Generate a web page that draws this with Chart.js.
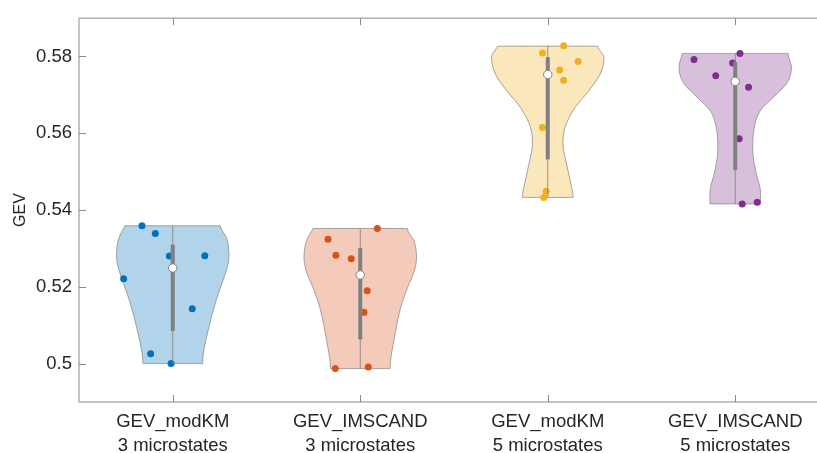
<!DOCTYPE html>
<html>
<head>
<meta charset="utf-8">
<title>GEV violin plot</title>
<script src="https://cdn.jsdelivr.net/npm/chart.js@4.4.1/dist/chart.umd.min.js"></script>
<style>
  html, body { margin: 0; padding: 0; overflow: hidden; background: #fff; }
</style>
</head>
<body>
<canvas id="gevChart" width="840" height="453"></canvas>
<script>
// categories (x positions 1..4)
var categories = [
    ['GEV_modKM', '3 microstates'],
    ['GEV_IMSCAND', '3 microstates'],
    ['GEV_modKM', '5 microstates'],
    ['GEV_IMSCAND', '5 microstates']
];
var yTicks = [0.50, 0.52, 0.54, 0.56, 0.58];

// individual GEV values per group and their horizontal jitter
var modKM3 = [0.5359, 0.5339, 0.5280, 0.5281, 0.5221, 0.5143, 0.5026, 0.5000];
var modKM3Jitter = [-0.164, -0.093, -0.018, 0.171, -0.262, 0.104, -0.118, -0.009];
var imscand3 = [0.5352, 0.5324, 0.5282, 0.5273, 0.5190, 0.5134, 0.4987, 0.4991];
var imscand3Jitter = [0.091, -0.172, -0.130, -0.048, 0.037, 0.020, -0.133, 0.043];
var modKM5 = [0.5828, 0.5809, 0.5787, 0.5765, 0.5738, 0.5615, 0.5449, 0.5433];
var modKM5Jitter = [0.085, -0.028, 0.162, 0.064, 0.085, -0.028, -0.009, -0.021];
var imscand5 = [0.5808, 0.5792, 0.5783, 0.5750, 0.5720, 0.5586, 0.5416, 0.5420];
var imscand5Jitter = [0.025, -0.220, -0.014, -0.104, 0.071, 0.021, 0.037, 0.117];

// box summaries
var medians = [0.5249, 0.5231, 0.5753, 0.5735];
var q1s = [0.5085, 0.5063, 0.5532, 0.5504];
var q3s = [0.5310, 0.5301, 0.5798, 0.5786];

// kernel density outlines (value levels, relative width)
var modKM3Levels = [0.5359, 0.5326, 0.5280, 0.5246, 0.5207, 0.5164, 0.5087, 0.5000];
var modKM3Density = [0.85, 0.96, 1.00, 0.96, 0.87, 0.77, 0.63, 0.53];
var imscand3Levels = [0.5352, 0.5318, 0.5275, 0.5241, 0.5198, 0.5147, 0.5062, 0.4987];
var imscand3Density = [0.84, 0.96, 1.00, 0.96, 0.84, 0.72, 0.60, 0.53];
var modKM5Levels = [0.5827, 0.5797, 0.5754, 0.5711, 0.5668, 0.5617, 0.5574, 0.5523, 0.5476, 0.5433];
var modKM5Density = [0.89, 1.00, 0.93, 0.73, 0.49, 0.31, 0.27, 0.33, 0.40, 0.45];
var imscand5Levels = [0.5808, 0.5771, 0.5731, 0.5694, 0.5660, 0.5608, 0.5557, 0.5497, 0.5446, 0.5416];
var imscand5Density = [0.94, 1.00, 0.92, 0.68, 0.45, 0.33, 0.31, 0.37, 0.45, 0.45];

var groupValues = [modKM3, imscand3, modKM5, imscand5];
var groupJitter = [modKM3Jitter, imscand3Jitter, modKM5Jitter, imscand5Jitter];
var groupLevels = [modKM3Levels, imscand3Levels, modKM5Levels, imscand5Levels];
var groupDensity = [modKM3Density, imscand3Density, modKM5Density, imscand5Density];

var colors = ['0,114,189', '217,83,25', '237,177,32', '126,47,142'];
var violinHalfWidth = 0.3;
var axisColor = '#8a8a8a';
var textColor = '#262626';
var fontFamily = "'Liberation Sans', Arial, Helvetica, sans-serif";

function outline(center, levels, dens) {
    var pts = [];
    for (var i = 0; i < levels.length; i++) {
        pts.push({x: center - violinHalfWidth * dens[i], y: levels[i]});
    }
    for (var j = levels.length - 1; j >= 0; j--) {
        pts.push({x: center + violinHalfWidth * dens[j], y: levels[j]});
    }
    pts.push({x: pts[0].x, y: pts[0].y});
    return pts;
}

var datasets = [];
groupValues.forEach(function(vals, g) {
    var c = g + 1;
    var top = Math.max.apply(null, vals);
    var bottom = Math.min.apply(null, vals);

    datasets.push({
        data: outline(c, groupLevels[g], groupDensity[g]),
        showLine: true,
        fill: 'shape',
        backgroundColor: 'rgba(' + colors[g] + ',0.3)',
        borderColor: 'rgba(130,130,130,0.7)',
        borderWidth: 1,
        pointRadius: 0,
        cubicInterpolationMode: 'monotone',
        order: 5
    });
    datasets.push({
        data: vals.map(function(v, i) { return {x: c + groupJitter[g][i], y: v}; }),
        backgroundColor: 'rgb(' + colors[g] + ')',
        borderWidth: 0,
        pointRadius: 3.5,
        order: 4
    });
    datasets.push({
        data: [{x: c, y: bottom}, {x: c, y: top}],
        showLine: true,
        borderColor: 'rgba(130,130,130,0.85)',
        borderWidth: 1,
        pointRadius: 0,
        order: 3
    });
    datasets.push({
        data: [{x: c, y: q1s[g]}, {x: c, y: q3s[g]}],
        showLine: true,
        borderColor: '#808080',
        borderWidth: 4,
        borderCapStyle: 'butt',
        pointRadius: 0,
        order: 2
    });
    datasets.push({
        data: [{x: c, y: medians[g]}],
        backgroundColor: '#ffffff',
        borderColor: '#808080',
        borderWidth: 1,
        pointRadius: 4.2,
        order: 1
    });
});

// MATLAB-like box with inward ticks
var boxAxes = {
    id: 'boxAxes',
    beforeDatasetsDraw: function(chart) {
        var ctx = chart.ctx;
        var a = chart.chartArea;
        var xs = chart.scales.x;
        var ys = chart.scales.y;
        var tick = 7;
        ctx.save();
        ctx.strokeStyle = axisColor;
        ctx.lineWidth = 1;
        ctx.beginPath();
        ctx.rect(a.left, a.top, a.right - a.left, a.bottom - a.top);
        xs.ticks.forEach(function(t, i) {
            var px = Math.round(xs.getPixelForTick(i)) + 0.5;
            ctx.moveTo(px, a.bottom); ctx.lineTo(px, a.bottom - tick);
            ctx.moveTo(px, a.top); ctx.lineTo(px, a.top + tick);
        });
        ys.ticks.forEach(function(t, i) {
            var py = Math.round(ys.getPixelForTick(i)) + 0.5;
            ctx.moveTo(a.left, py); ctx.lineTo(a.left + tick, py);
            ctx.moveTo(a.right, py); ctx.lineTo(a.right - tick, py);
        });
        ctx.stroke();
        ctx.restore();
    }
};

var ctx = document.getElementById('gevChart').getContext('2d');
var chart = new Chart(ctx, {
    type: 'scatter',
    data: { datasets: datasets },
    plugins: [boxAxes],
    options: {
        responsive: false,
        animation: false,
        indexAxis: 'y',
        layout: { padding: { top: 13, right: 11, left: 0, bottom: 0 } },
        plugins: {
            legend: { display: false },
            tooltip: { enabled: false }
        },
        scales: {
            x: {
                type: 'linear',
                min: 0.5,
                max: 4.5,
                grid: { display: false, drawTicks: false },
                border: { display: false },
                afterBuildTicks: function(scale) {
                    scale.ticks = categories.map(function(c, i) { return {value: i + 1}; });
                },
                afterFit: function(scale) { scale.height = 51; },
                ticks: {
                    autoSkip: false,
                    maxRotation: 0,
                    padding: 8,
                    color: textColor,
                    font: { family: fontFamily, size: 18.5, lineHeight: 1.3 },
                    callback: function(value, index) { return categories[index]; }
                }
            },
            y: {
                type: 'linear',
                min: 0.49,
                max: 0.59,
                grid: { display: false, drawTicks: false },
                border: { display: false },
                afterBuildTicks: function(scale) {
                    scale.ticks = yTicks.map(function(v) { return {value: v}; });
                },
                afterFit: function(scale) { scale.width = 79; },
                ticks: {
                    padding: 7,
                    color: textColor,
                    font: { family: fontFamily, size: 18.5 },
                    callback: function(value) { return String(value); }
                },
                title: {
                    display: true,
                    text: 'GEV',
                    color: textColor,
                    padding: { top: 11, bottom: 0 },
                    font: { family: fontFamily, size: 16, lineHeight: 1.2 }
                }
            }
        }
    }
});
</script>
</body>
</html>
